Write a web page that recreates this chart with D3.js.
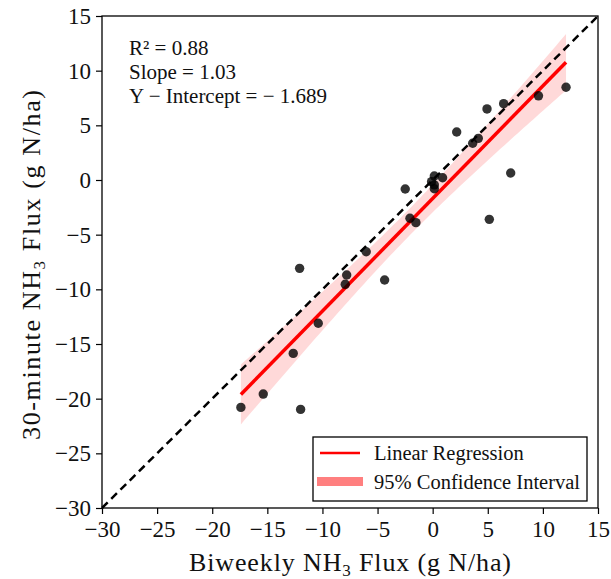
<!DOCTYPE html>
<html><head><meta charset="utf-8">
<script src="https://cdn.jsdelivr.net/npm/d3@7"></script>
<style>
body{margin:0;background:#fff;}
svg text{font-family:"Liberation Serif","Times New Roman",serif !important;fill:#111;}
</style></head>
<body><svg id="c" width="611" height="579"></svg>
<script>
const biweekly  = [12.1, 9.6, 6.44, 4.93, 2.18, 4.14, 3.63, 7.08, 0.15, 0.9, -0.1, 0.15, 0.15, -2.49, -2.06, -1.52, -6.03, -12.07, -7.8, -7.93, -4.36, -10.38, -12.65, -15.37, -17.4, -11.98, 5.14];
const thirtyMin = [8.48, 7.7, 6.98, 6.5, 4.39, 3.81, 3.36, 0.64, 0.37, 0.21, -0.15, -0.45, -0.8, -0.82, -3.5, -3.9, -6.56, -8.08, -8.69, -9.54, -9.15, -13.1, -15.86, -19.58, -20.8, -20.98, -3.6];
const slope = 1.03, intercept = -1.689, r2 = 0.88;
const tickValues = [-30, -25, -20, -15, -10, -5, 0, 5, 10, 15];
const statLines = ["R² = 0.88", "Slope = 1.03", "Y − Intercept = − 1.689"];
const legendLabels = ["Linear Regression", "95% Confidence Interval"];

const svg = d3.select("#c");
const L = 102, R = 598, T = 16, B = 508;
const x = d3.scaleLinear().domain([-30, 15]).range([L, R]);
const y = d3.scaleLinear().domain([-30, 15]).range([B, T]);

// CI from data residuals around the fitted line
const n = biweekly.length;
const xm = d3.mean(biweekly);
const sxx = d3.sum(biweekly, v => (v - xm) ** 2);
const sse = d3.sum(biweekly.map((v, i) => (thirtyMin[i] - (slope * v + intercept)) ** 2));
const s = Math.sqrt(sse / (n - 2));
const tcrit = 2.06;
const [xmin, xmax] = d3.extent(biweekly);
const grid = d3.range(0, 101).map(i => xmin + (xmax - xmin) * i / 100);
const band = grid.map(g => {
  const yh = slope * g + intercept;
  const h = tcrit * s * Math.sqrt(1 / n + (g - xm) ** 2 / sxx);
  return {g, lo: yh - h, hi: yh + h};
});

svg.append("path").datum(band)
  .attr("d", d3.area().x(d => x(d.g)).y0(d => y(d.lo)).y1(d => y(d.hi)))
  .attr("fill", "#ff0000").attr("fill-opacity", 0.15);

// 1:1 line
svg.append("line").attr("x1", x(-30)).attr("y1", y(-30)).attr("x2", x(15)).attr("y2", y(15))
  .attr("stroke", "#000").attr("stroke-width", 2.5).attr("stroke-dasharray", "8,5");

// regression line
svg.append("line").attr("x1", x(xmin)).attr("y1", y(slope * xmin + intercept))
  .attr("x2", x(xmax)).attr("y2", y(slope * xmax + intercept))
  .attr("stroke", "#ff0000").attr("stroke-width", 3.5);

// points
svg.append("g").selectAll("circle").data(biweekly).join("circle")
  .attr("cx", d => x(d)).attr("cy", (d, i) => y(thirtyMin[i])).attr("r", 4.7)
  .attr("fill", "#000").attr("fill-opacity", 0.8);

// frame
svg.append("rect").attr("x", L).attr("y", T).attr("width", R - L).attr("height", B - T)
  .attr("fill", "none").attr("stroke", "#000").attr("stroke-width", 1.3);

// axes
const fmt = d => (d < 0 ? "\u2212" + Math.abs(d) : String(d));
const xa = svg.append("g").attr("transform", `translate(0,${B})`)
  .call(d3.axisBottom(x).tickValues(tickValues).tickFormat(fmt).tickSize(6).tickPadding(7));
const ya = svg.append("g").attr("transform", `translate(${L},0)`)
  .call(d3.axisLeft(y).tickValues(tickValues).tickFormat(fmt).tickSize(6).tickPadding(5));
[xa, ya].forEach(a => {
  a.attr("font-family", "Liberation Serif").attr("font-size", 23);
  a.select(".domain").remove();
  a.selectAll("line").attr("stroke", "#000").attr("stroke-width", 1.2);
  a.selectAll("text").attr("fill", "#111");
});

// stats text
svg.append("g").selectAll("text").data(statLines).join("text")
  .attr("x", 129).attr("y", (d, i) => 55 + i * 24).style("font-size", "21px").text(d => d);

// axis labels
const xl = svg.append("text").attr("x", 350).attr("y", 571).attr("text-anchor", "middle")
  .style("font-size", "26px").attr("textLength", 322).attr("lengthAdjust", "spacing");
xl.append("tspan").text("Biweekly NH");
xl.append("tspan").text("3").style("font-size", "17px").attr("dy", 5);
xl.append("tspan").text(" Flux (g N/ha)").attr("dy", -5);

const yl = svg.append("text").attr("transform", "translate(40,265) rotate(-90)").attr("text-anchor", "middle")
  .style("font-size", "26px").attr("textLength", 350).attr("lengthAdjust", "spacing");
yl.append("tspan").text("30-minute NH");
yl.append("tspan").text("3").style("font-size", "17px").attr("dy", 5);
yl.append("tspan").text(" Flux (g N/ha)").attr("dy", -5);

// legend
const lg = svg.append("g");
lg.append("rect").attr("x", 313).attr("y", 437).attr("width", 274).attr("height", 64)
  .attr("fill", "#fff").attr("stroke", "#000").attr("stroke-width", 1.3);
lg.append("line").attr("x1", 320).attr("x2", 360).attr("y1", 453).attr("y2", 453)
  .attr("stroke", "#ff0000").attr("stroke-width", 2.5);
lg.append("rect").attr("x", 317).attr("y", 477).attr("width", 46).attr("height", 9)
  .attr("fill", "#ff0000").attr("fill-opacity", 0.5);
lg.selectAll("text.lt").data(legendLabels).join("text").attr("class", "lt")
  .attr("x", 374).attr("y", (d, i) => 460 + i * 29).style("font-size", "20.5px").text(d => d);
</script></body></html>
